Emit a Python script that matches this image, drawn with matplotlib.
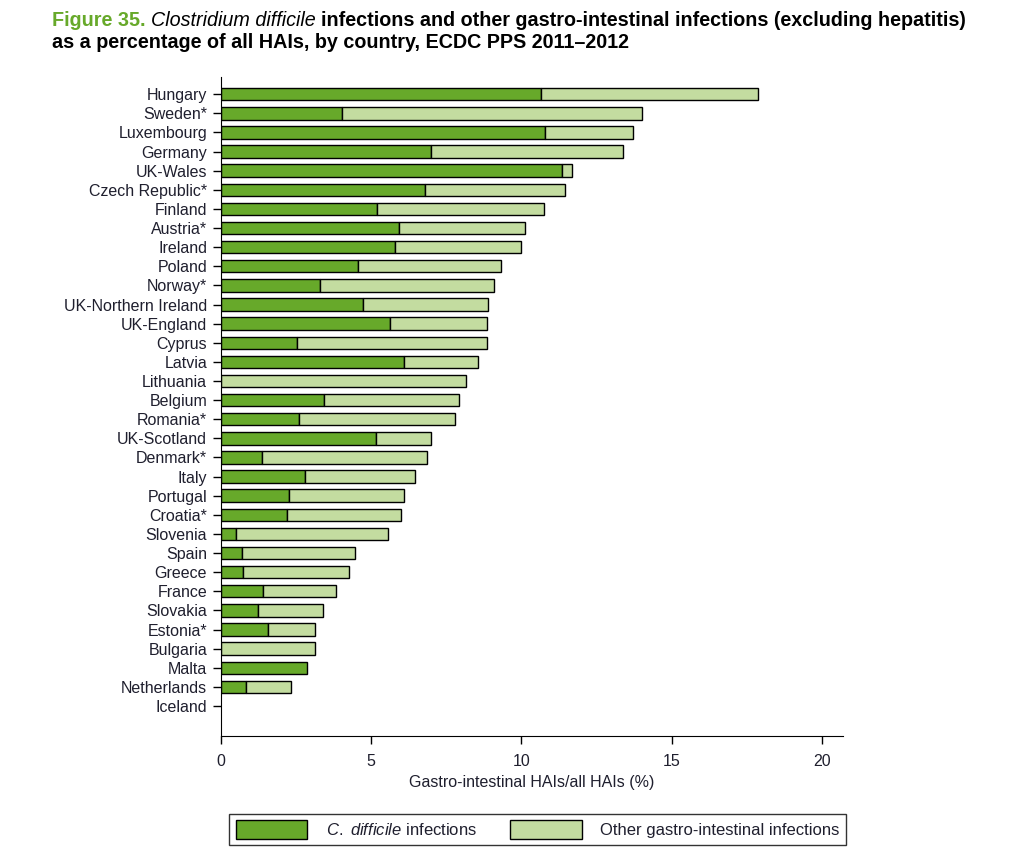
import numpy as np
import matplotlib
matplotlib.use('Agg')
import matplotlib.pyplot as plt
from matplotlib.patches import Patch

plt.rcParams['font.family'] = ['Liberation Sans', 'DejaVu Sans']
plt.rcParams['mathtext.fontset'] = 'custom'
plt.rcParams['mathtext.it'] = 'Liberation Sans:italic'
plt.rcParams['mathtext.rm'] = 'Liberation Sans'

countries = ['Hungary', 'Sweden*', 'Luxembourg', 'Germany', 'UK-Wales', 'Czech Republic*',
	'Finland', 'Austria*', 'Ireland', 'Poland', 'Norway*', 'UK-Northern Ireland',
	'UK-England', 'Cyprus', 'Latvia', 'Lithuania', 'Belgium', 'Romania*', 'UK-Scotland',
	'Denmark*', 'Italy', 'Portugal', 'Croatia*', 'Slovenia', 'Spain', 'Greece', 'France',
	'Slovakia', 'Estonia*', 'Bulgaria', 'Malta', 'Netherlands', 'Iceland']
# C. difficile share (%)
cdiff = [10.65, 4.03, 10.78, 6.99, 11.35, 6.79, 5.19, 5.92, 5.79, 4.56, 3.29, 4.73,
	5.62, 2.53, 6.09, 0.0, 3.43, 2.60, 5.16, 1.36, 2.80, 2.26, 2.20, 0.50, 0.70, 0.73,
	1.40, 1.23, 1.56, 0.0, 2.86, 0.83, 0.0]
# total gastro-intestinal share (%)
total = [17.87, 14.01, 13.71, 13.38, 11.68, 11.45, 10.75, 10.12, 9.98, 9.32, 9.08, 8.89,
	8.85, 8.85, 8.55, 8.15, 7.92, 7.79, 6.99, 6.86, 6.46, 6.09, 5.99, 5.56, 4.46, 4.26,
	3.83, 3.39, 3.13, 3.13, 2.86, 2.33, 0.0]
other = [t - c for t, c in zip(total, cdiff)]

dark = '#67a92a'
light = '#c3dca0'
txtcol = '#1f1f2e'
fs = 11.5

fig = plt.figure(figsize=(10.14, 8.59), dpi=100)
ax = fig.add_axes([221/1014, 1-736/859, (843-221)/1014, (736-77)/859])

y = np.arange(len(countries))
for i in y:
	if cdiff[i] > 0:
		ax.barh(i, cdiff[i], height=0.65, color=dark, edgecolor='black', linewidth=1)
	if other[i] > 0.001:
		ax.barh(i, other[i], left=cdiff[i], height=0.65, color=light, edgecolor='black', linewidth=1)

ax.set_ylim(len(countries)-1+1.57, -0.9)
ax.set_xlim(0, 20.7)
ax.set_yticks(y)
ax.set_yticklabels(countries, fontsize=fs, color=txtcol)
ax.set_xticks([0, 5, 10, 15, 20])
ax.set_xticklabels(['0', '5', '10', '15', '20'], fontsize=fs, color=txtcol)
ax.tick_params(axis='y', length=6, width=1, pad=4)
ax.tick_params(axis='x', length=6, width=1, pad=7)
for s in ['top', 'right']:
	ax.spines[s].set_visible(False)
ax.set_xlabel('Gastro-intestinal HAIs/all HAIs (%)', fontsize=fs, color=txtcol, labelpad=4)

handles = [Patch(facecolor=dark, edgecolor='black', linewidth=1),
	Patch(facecolor=light, edgecolor='black', linewidth=1)]
leg = fig.legend(handles, [r'$\mathit{C.}$ $\mathit{difficile}$ infections', 'Other gastro-intestinal infections'],
	ncol=2, loc='center left', bbox_to_anchor=(229/1014, 1-829.5/859), fontsize=12,
	frameon=True, fancybox=False, edgecolor='black', handlelength=4.3, handleheight=1.3,
	columnspacing=2.0, handletextpad=1.1, borderpad=0.4, borderaxespad=0)
leg.get_frame().set_linewidth(1)
for t in leg.get_texts():
	t.set_color(txtcol)

# title, pieced together
fig.canvas.draw()
r = fig.canvas.get_renderer()
tsize = 14.2
t1 = fig.text(52/1014, 1-20/859, 'Figure 35. ', fontsize=tsize, fontweight='bold', color=dark, va='center')
ext = t1.get_window_extent(r)
t2 = fig.text(ext.x1/1014, 1-20/859, 'Clostridium difficile ', fontsize=tsize, style='italic', color='black', va='center')
ext = t2.get_window_extent(r)
fig.text(ext.x1/1014, 1-20/859, 'infections and other gastro-intestinal infections (excluding hepatitis)',
	fontsize=tsize, fontweight='bold', color='black', va='center')
fig.text(52/1014, 1-42/859, 'as a percentage of all HAIs, by country, ECDC PPS 2011\u20132012',
	fontsize=tsize, fontweight='bold', color='black', va='center')

fig.savefig('out.png', dpi=100)
